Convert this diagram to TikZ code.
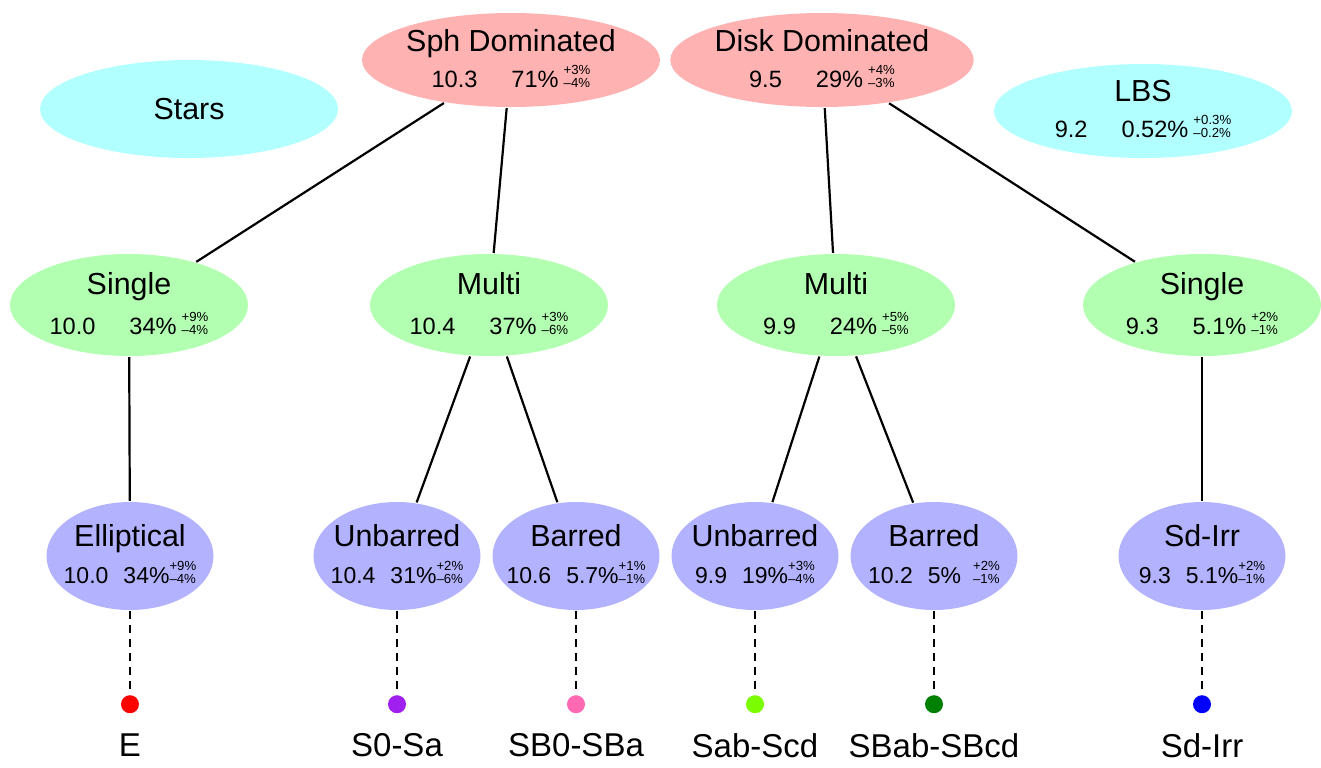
\documentclass[tikz,border=0pt]{standalone}
\usepackage{fontspec}
\setmainfont{Liberation Sans}
\usetikzlibrary{shapes.geometric, positioning}

\definecolor{domred}{RGB}{255,178,178}
\definecolor{outcyan}{RGB}{178,255,255}
\definecolor{modegreen}{RGB}{178,255,178}
\definecolor{typeblue}{RGB}{178,178,255}
\definecolor{hpurple}{RGB}{160,32,240}
\definecolor{hpink}{RGB}{255,105,180}
\definecolor{hlawn}{RGB}{124,252,0}
\definecolor{hgreen}{RGB}{0,128,0}

% error bars as a small stack
\newcommand{\errs}[2]{{\fontsize{6.6}{6.2}\selectfont\begin{tabular}[b]{@{}l@{}}#1\\#2\end{tabular}}}
% mass and fraction line
\newcommand{\vals}[4]{{\fontsize{11.8}{12}\selectfont #1\hspace{17pt}#2\hspace{2.5pt}\errs{#3}{#4}}}
\newcommand{\bvals}[4]{{\fontsize{11.5}{12}\selectfont #1\hspace{7.5pt}#2\errs{#3}{#4}}}

\tikzset{
    grp/.style={ellipse, inner sep=0pt, align=center},
    domnode/.style={grp, fill=domred, minimum width=149pt, minimum height=47pt,
        font=\fontsize{15.2}{18}\selectfont},
    outnode/.style={domnode, fill=outcyan},
    modenode/.style={grp, fill=modegreen, minimum width=119pt, minimum height=51pt,
        font=\fontsize{15.2}{20}\selectfont},
    typenode/.style={grp, fill=typeblue, minimum width=83.5pt, minimum height=54pt,
        inner xsep=-6pt, font=\fontsize{15.2}{18.5}\selectfont},
    dotnode/.style={circle, inner sep=0pt, minimum size=9pt},
    hubble/.style={inner sep=0pt, font=\fontsize{16.5}{18}\selectfont},
    dashline/.style={dash pattern=on 4pt off 3pt, line width=1.3pt}
}

\begin{document}
\begin{tikzpicture}[x=0.5pt, y=-0.5pt, line width=1.1pt]
    \useasboundingbox (0,0) rectangle (1321,767);
    % top level
    \node[domnode] (sph) at (511,60) {Sph Dominated\\\vals{10.3}{71\%}{+3\%}{--4\%}};
    \node[domnode] (disk) at (822,60) {Disk Dominated\\\vals{9.5}{29\%}{+4\%}{--3\%}};
    \node[outnode, minimum height=49pt] (stars) at (189,109) {Stars};
    \node[outnode] (lbs) at (1143,111) {LBS\\\vals{9.2}{0.52\%}{+0.3\%}{--0.2\%}};
    % components
    \node[modenode] (s1) at (129,305) {Single\\\vals{10.0}{34\%}{+9\%}{--4\%}};
    \node[modenode] (m1) at (489,305) {Multi\\\vals{10.4}{37\%}{+3\%}{--6\%}};
    \node[modenode] (m2) at (836,305) {Multi\\\vals{9.9}{24\%}{+5\%}{--5\%}};
    \node[modenode] (s2) at (1202,305) {Single\\\vals{9.3}{5.1\%}{+2\%}{--1\%}};
    % types
    \node[typenode] (ell) at (130,556) {Elliptical\\\bvals{10.0}{34\%}{+9\%}{--4\%}};
    \node[typenode] (ub1) at (397,556) {Unbarred\\\bvals{10.4}{31\%}{+2\%}{--6\%}};
    \node[typenode] (b1) at (576,556) {Barred\\\bvals{10.6}{5.7\%}{+1\%}{--1\%}};
    \node[typenode] (ub2) at (755,556) {Unbarred\\\bvals{9.9}{19\%}{+3\%}{--4\%}};
    \node[typenode] (b2) at (934,556) {Barred\\\bvals{10.2}{5\%\hspace{6pt}}{+2\%}{--1\%}};
    \node[typenode] (sdi) at (1202,556) {Sd-Irr\\\bvals{9.3}{5.1\%}{+2\%}{--1\%}};
    % hubble types
    \node[dotnode, fill=red] (d1) [below=41.5pt of ell] {};
    \node[dotnode, fill=hpurple] (d2) [below=41.5pt of ub1] {};
    \node[dotnode, fill=hpink] (d3) [below=41.5pt of b1] {};
    \node[dotnode, fill=hlawn] (d4) [below=41.5pt of ub2] {};
    \node[dotnode, fill=hgreen] (d5) [below=41.5pt of b2] {};
    \node[dotnode, fill=blue] (d6) [below=41.5pt of sdi] {};
    \node[hubble] (t1) [below=9pt of d1] {E};
    \node[hubble] (t2) [below=9pt of d2] {S0-Sa};
    \node[hubble] (t3) [below=9pt of d3] {SB0-SBa};
    \node[hubble] (t4) [below=9pt of d4] {Sab-Scd};
    \node[hubble] (t5) [below=9pt of d5] {SBab-SBcd};
    \node[hubble] (t6) [below=9pt of d6] {Sd-Irr};
    \draw
        (sph) edge (s1) edge (m1)
        (disk) edge (m2) edge (s2)
        (s1) edge (ell)
        (m1) edge (ub1) edge (b1)
        (m2) edge (ub2) edge (b2)
        (s2) edge (sdi);
    \draw[dashline]
        (ell) -- (d1) (ub1) -- (d2) (b1) -- (d3)
        (ub2) -- (d4) (b2) -- (d5) (sdi) -- (d6);
\end{tikzpicture}
\end{document}
